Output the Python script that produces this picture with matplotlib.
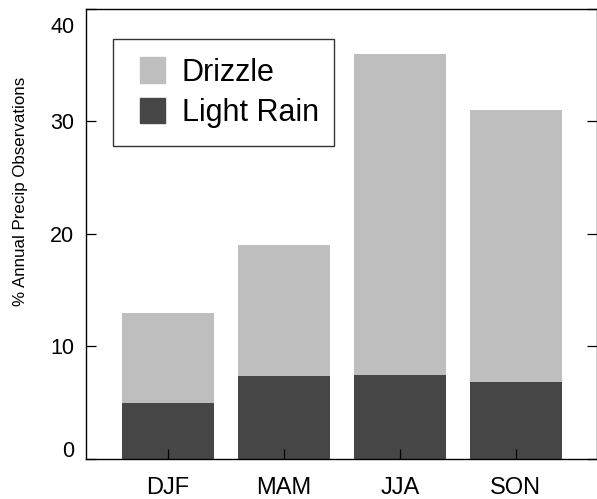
import numpy as np
import matplotlib
matplotlib.use('Agg')
import matplotlib.pyplot as plt
from matplotlib.patches import Rectangle
from matplotlib.legend_handler import HandlerPatch
from matplotlib.transforms import ScaledTranslation

plt.rcParams['font.family'] = ['Liberation Sans', 'DejaVu Sans']

seasons = ['DJF', 'MAM', 'JJA', 'SON']
light_rain = [4.95, 7.35, 7.45, 6.85]
drizzle_total = [12.95, 19.0, 35.95, 31.0]
drizzle = [t - l for t, l in zip(drizzle_total, light_rain)]

c_drizzle = '#bebebe'
c_rain = '#464646'


def square_right(legend, orig_handle, xdescent, ydescent, width, height, fontsize):
    # square patch pushed to the right end of the handle box
    return Rectangle((-xdescent + width - height, -ydescent), height, height)


fig = plt.figure(figsize=(5.97, 4.99), dpi=100)
ax = fig.add_axes([86 / 597, 40 / 499, 511 / 597, 450.5 / 499])

x = np.arange(1, len(seasons) + 1)
ax.bar(x, light_rain, width=0.79, color=c_rain, zorder=1)
ax.bar(x, drizzle, width=0.79, bottom=light_rain, color=c_drizzle, zorder=1)

ax.set_xlim(0.293, 4.70)
ax.set_ylim(0, 40)
ax.set_xticks(x)
ax.set_xticklabels(seasons)
ax.set_yticks([0, 10, 20, 30, 40])

ax.tick_params(axis='y', direction='in', length=7.2, width=0.9,
               labelsize=15.5, pad=8.5, right=True)
ax.tick_params(axis='x', direction='in', length=7.2, width=0.9,
               labelsize=17, pad=13)
for s in ax.spines.values():
    s.set_linewidth(1.0)
    s.set_zorder(3)

# end labels pulled inside the axis range
ylabels = ax.get_yticklabels()
ylabels[0].set_transform(ylabels[0].get_transform() +
                         ScaledTranslation(0, 10 / 100, fig.dpi_scale_trans))
ylabels[-1].set_transform(ylabels[-1].get_transform() +
                          ScaledTranslation(0, -16.5 / 100, fig.dpi_scale_trans))

ax.set_ylabel('% Annual Precip Observations', fontsize=12.2)
ax.yaxis.set_label_coords(-0.114, 0.595)

proxies = [Rectangle((0, 0), 1, 1, color=c_drizzle),
           Rectangle((0, 0), 1, 1, color=c_rain)]
leg = ax.legend(proxies, ['Drizzle', 'Light Rain'], loc='upper left',
                bbox_to_anchor=(0.0528, 0.0, 0.4325, 0.932), mode='expand',
                fontsize=22, frameon=True, fancybox=False, borderpad=0.6,
                handlelength=1.1, handleheight=0.9, handletextpad=0.55,
                labelspacing=0.33, borderaxespad=0,
                handler_map={Rectangle: HandlerPatch(patch_func=square_right)})
leg.get_frame().set_edgecolor('black')
leg.get_frame().set_linewidth(1.0)

fig.savefig('out.png', dpi=100)
